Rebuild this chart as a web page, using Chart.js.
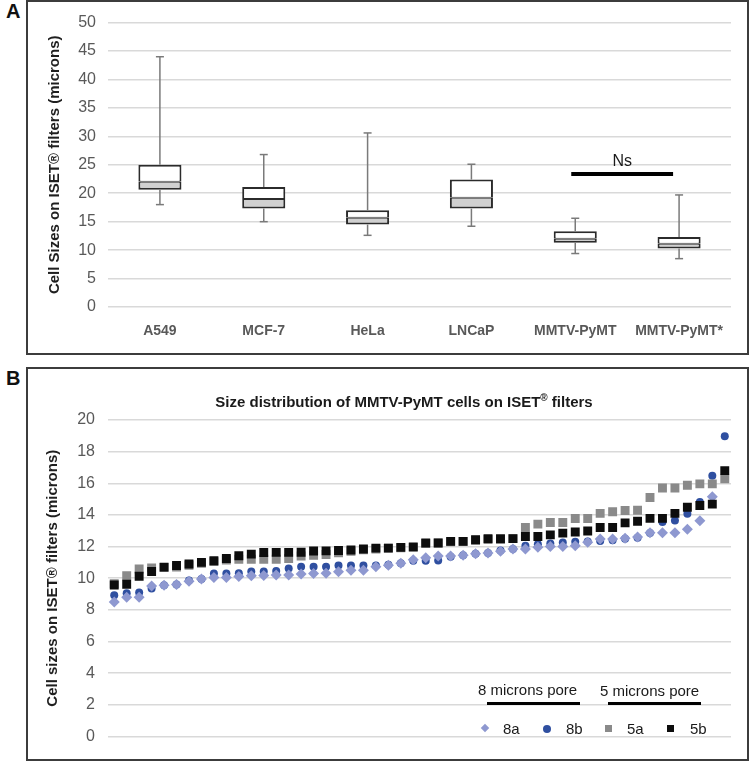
<!DOCTYPE html>
<html>
<head>
<meta charset="utf-8">
<script src="https://cdn.jsdelivr.net/npm/chart.js@4.4.1/dist/chart.umd.min.js"></script>
<style>
body{margin:0;background:#fff;font-family:"Liberation Sans",Arial,sans-serif;}
#wrap{position:relative;width:750px;height:761px;overflow:hidden;}
.frame{position:absolute;border:2px solid #3c3c3c;box-sizing:border-box;}
.tag{position:absolute;font-weight:bold;font-size:20px;color:#111;}
canvas{position:absolute;}
.lg{position:absolute;font-size:15px;color:#1a1a1a;white-space:nowrap;}
.ul{position:absolute;height:3px;background:#000;}
.mk{position:absolute;}
#titleB{position:absolute;left:0;width:808px;top:392px;text-align:center;font-weight:bold;font-size:15px;color:#1a1a1a;}
#titleB sup{font-size:10px;}
</style>
</head>
<body>
<div id="wrap">
  <div class="frame" style="left:26px;top:0;width:723px;height:355px"></div>
  <div class="frame" style="left:26px;top:367px;width:723px;height:394px"></div>
  <div class="tag" style="left:6px;top:0px">A</div>
  <div class="tag" style="left:6px;top:367px">B</div>
  <canvas id="boxA" width="719" height="352" style="left:28px;top:1px"></canvas>
  <canvas id="dotB" width="719" height="391" style="left:28px;top:368px"></canvas>
  <div id="titleB">Size distribution of MMTV-PyMT cells on ISET<sup>®</sup> filters</div>

  <div class="lg" style="left:478px;top:681px">8 microns pore</div>
  <div class="ul" style="left:487px;top:702px;width:93px"></div>
  <div class="lg" style="left:600px;top:682px">5 microns pore</div>
  <div class="ul" style="left:608px;top:702px;width:93px"></div>

  <div class="mk" style="left:482px;top:725px;width:6px;height:6px;background:#8e98d0;transform:rotate(45deg)"></div>
  <div class="lg" style="left:503px;top:720px">8a</div>
  <div class="mk" style="left:543px;top:725px;width:8px;height:8px;border-radius:50%;background:#2f4fa0"></div>
  <div class="lg" style="left:566px;top:720px">8b</div>
  <div class="mk" style="left:605px;top:725px;width:7px;height:7px;background:#8a8a8a"></div>
  <div class="lg" style="left:627px;top:720px">5a</div>
  <div class="mk" style="left:667px;top:725px;width:7px;height:7px;background:#0d0d0d"></div>
  <div class="lg" style="left:690px;top:720px">5b</div>
</div>
<script>
// ---- panel A : box plots ----
const cellLines=["A549","MCF-7","HeLa","LNCaP","MMTV-PyMT","MMTV-PyMT*"];
const whiskerLow=[18.0,15.0,12.6,14.2,9.4,8.5];
const q1=[20.6,17.3,14.5,17.3,11.3,10.3];
const median=[22.0,19.0,15.7,19.2,12.0,11.1];
const q3=[25.0,21.1,17.0,22.4,13.3,12.3];
const whiskerHigh=[44.0,26.8,30.6,25.1,15.6,19.7];
const nsPair=["MMTV-PyMT","MMTV-PyMT*"];
const nsLevel=23.4;

// ---- panel B : sorted cell sizes ----
const size8a=[8.5,8.8,8.8,9.5,9.55,9.6,9.8,9.95,10.05,10.05,10.1,10.15,10.17,10.2,10.2,10.27,10.3,10.32,10.4,10.5,
  10.5,10.73,10.82,10.95,11.17,11.3,11.4,11.4,11.45,11.55,11.6,11.7,11.85,11.85,11.95,12.0,12.0,12.05,12.27,12.47,
  12.47,12.53,12.6,12.88,12.88,12.88,13.1,13.63,15.15];
const size8b=[8.93,9.05,9.1,9.35,9.55,9.6,9.85,9.95,10.3,10.3,10.32,10.42,10.42,10.45,10.62,10.72,10.72,10.73,10.8,10.8,
  10.8,10.8,10.85,10.95,11.1,11.1,11.12,11.35,11.45,11.55,11.6,11.75,11.85,12.05,12.15,12.2,12.25,12.3,12.32,12.35,
  12.4,12.5,12.55,12.85,13.55,13.65,14.07,14.82,16.48,18.97];
const size5a=[9.65,10.15,10.58,10.65,10.68,10.7,10.82,10.95,11.05,11.15,11.2,11.2,11.2,11.2,11.25,11.4,11.45,11.5,11.6,11.7,
  11.8,11.85,11.9,11.92,11.95,12.2,12.22,12.3,12.32,12.4,12.45,12.45,12.5,13.2,13.42,13.52,13.52,13.77,13.77,14.1,
  14.2,14.28,14.3,15.1,15.7,15.7,15.88,15.96,15.96,16.28];
const size5b=[9.57,9.62,10.12,10.42,10.7,10.8,10.9,11.0,11.1,11.25,11.42,11.52,11.62,11.63,11.63,11.64,11.72,11.73,11.75,11.78,
  11.85,11.9,11.9,11.95,11.98,12.23,12.23,12.33,12.33,12.43,12.5,12.5,12.5,12.64,12.64,12.74,12.85,12.92,12.98,13.2,
  13.2,13.5,13.6,13.78,13.78,14.1,14.48,14.6,14.68,16.8];
const cellRank=Array.from({length:50},(_,i)=>String(i+1));

const gridGray="#d9d9d9";
const tickGray="#595959";

const whiskerPlugin={
  id:"whiskers",
  afterDatasetsDraw(chart){
    const ctx=chart.ctx, x=chart.scales.x, y=chart.scales.y;
    ctx.save();
    ctx.strokeStyle="#7a7a7a";
    ctx.lineWidth=1.5;
    cellLines.forEach((c,i)=>{
      const px=x.getPixelForValue(i);
      const seg=(a,b)=>{
        ctx.beginPath();
        ctx.moveTo(px,y.getPixelForValue(a));
        ctx.lineTo(px,y.getPixelForValue(b));
        ctx.stroke();
        ctx.beginPath();
        ctx.moveTo(px-4,y.getPixelForValue(b));
        ctx.lineTo(px+4,y.getPixelForValue(b));
        ctx.stroke();
      };
      seg(q3[i],whiskerHigh[i]);
      seg(q1[i],whiskerLow[i]);
    });
    // non-significant bracket
    const xa=x.getPixelForValue(cellLines.indexOf(nsPair[0]))-4;
    const xb=x.getPixelForValue(cellLines.indexOf(nsPair[1]))-6;
    const yy=y.getPixelForValue(nsLevel);
    ctx.strokeStyle="#000";
    ctx.lineWidth=4;
    ctx.beginPath();ctx.moveTo(xa,yy);ctx.lineTo(xb,yy);ctx.stroke();
    ctx.fillStyle="#1a1a1a";
    ctx.font="16px 'Liberation Sans', Arial, sans-serif";
    ctx.textAlign="center";
    ctx.textBaseline="alphabetic";
    ctx.fillText("Ns",(xa+xb)/2,yy-8);
    ctx.restore();
  }
};

new Chart(document.getElementById("boxA"),{
  type:"bar",
  data:{
    labels:cellLines,
    datasets:[
      {data:cellLines.map((c,i)=>[q1[i],median[i]]),backgroundColor:"#d0d0d0",borderColor:"#2b2b2b",
       borderWidth:{top:1,bottom:2,left:2,right:2},borderSkipped:false,grouped:false,
       barPercentage:0.415,categoryPercentage:1},
      {data:cellLines.map((c,i)=>[median[i],q3[i]]),backgroundColor:"#ffffff",borderColor:"#2b2b2b",
       borderWidth:{top:2,bottom:1,left:2,right:2},borderSkipped:false,grouped:false,
       barPercentage:0.415,categoryPercentage:1}
    ]
  },
  options:{
    responsive:false,animation:false,devicePixelRatio:1,
    layout:{padding:{left:14,right:16,top:17,bottom:0}},
    plugins:{legend:{display:false},tooltip:{enabled:false}},
    scales:{
      x:{grid:{display:false,drawTicks:false},border:{display:false},
         ticks:{color:tickGray,padding:16,font:{family:"'Liberation Sans', Arial",size:14,weight:"bold"},maxRotation:0,autoSkip:false},
         afterFit(s){s.height=46;}},
      y:{min:0,max:50,
         grid:{color:gridGray,lineWidth:1.5,drawTicks:false},border:{display:false},
         ticks:{stepSize:5,color:tickGray,padding:12,font:{family:"'Liberation Sans', Arial",size:16}},
         title:{display:true,text:"Cell Sizes on ISET® filters (microns)",color:"#1f1f1f",
                font:{family:"'Liberation Sans', Arial",size:15,weight:"bold"}},
         afterFit(s){s.width=66;}}
    }
  },
  plugins:[whiskerPlugin]
});

new Chart(document.getElementById("dotB"),{
  type:"line",
  data:{
    labels:cellRank,
    datasets:[
      {label:"8a",data:size8a,showLine:false,pointStyle:"rectRot",pointRadius:5.5,pointBorderWidth:0,
       backgroundColor:"#8e98d0",borderColor:"#8e98d0",order:1},
      {label:"8b",data:size8b,showLine:false,pointStyle:"circle",pointRadius:4,pointBorderWidth:0,
       backgroundColor:"#2f4fa0",borderColor:"#2f4fa0",order:3},
      {label:"5a",data:size5a,showLine:false,pointStyle:"rect",pointRadius:6.3,pointBorderWidth:0,
       backgroundColor:"#8a8a8a",borderColor:"#8a8a8a",order:2},
      {label:"5b",data:size5b,showLine:false,pointStyle:"rect",pointRadius:6.3,pointBorderWidth:0,
       backgroundColor:"#0d0d0d",borderColor:"#0d0d0d",order:0}
    ]
  },
  options:{
    responsive:false,animation:false,devicePixelRatio:1,
    layout:{padding:{left:12,right:16,top:52,bottom:16}},
    plugins:{legend:{display:false},tooltip:{enabled:false}},
    scales:{
      x:{display:false,offset:true},
      y:{min:0,max:20,
         grid:{color:gridGray,lineWidth:1.5,drawTicks:false},border:{display:false},
         ticks:{stepSize:2,color:tickGray,padding:13,font:{family:"'Liberation Sans', Arial",size:16}},
         title:{display:true,text:"Cell sizes on ISET® filters (microns)",color:"#1f1f1f",
                font:{family:"'Liberation Sans', Arial",size:15,weight:"bold"}},
         afterFit(s){s.width=68;}}
    }
  }
});
</script>
</body>
</html>
